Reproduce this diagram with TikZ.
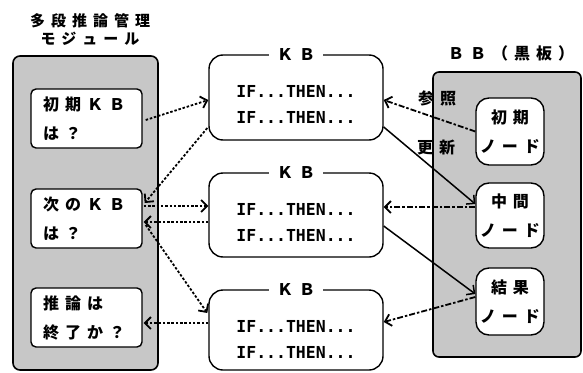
\documentclass[tikz,border=0pt]{standalone}
\usepackage{fontspec}
\setmainfont{Liberation Sans}
\newfontfamily\jp{Noto Sans CJK JP}
\newfontfamily\ifont{DejaVu Sans Mono}
\usetikzlibrary{arrows.meta}
\makeatletter
\newcommand\jsp[1]{\@tfor\jsp@c:=#1\do{\jsp@c\kern6pt}\unkern}
\makeatother
\tikzset{
  jtext/.style={font=\jp\bfseries\fontsize{16}{29}\selectfont},
  panel/.style={draw, line width=1.6pt, fill=black!22, rounded corners=7pt, inner sep=0pt},
  ibox/.style={draw, line width=1.4pt, fill=white, rounded corners=5pt, minimum width=111pt,
    minimum height=59pt, text width=87pt, inner xsep=12pt, inner ysep=0pt, align=left, jtext},
  kbbox/.style={draw, line width=1.4pt, fill=white, rounded corners=14pt, minimum width=174pt, inner sep=0pt},
  bnode/.style={draw, line width=1.4pt, fill=white, rounded corners=13pt, minimum width=68pt,
    inner sep=0pt, align=center, jtext},
  iftext/.style={font=\ifont\bfseries\fontsize{16.5}{18}\selectfont, inner sep=0pt},
  kbtitle/.style={jtext, fill=white, inner xsep=8pt, inner ysep=1pt},
  tip/.style={-{Straight Barb[length=6pt,width=12pt]}},
  dotarr/.style={tip, line width=1.8pt, dash pattern=on 2.5pt off 1.8pt},
  dasharr/.style={tip, line width=1.8pt, dash pattern=on 6pt off 2pt on 2.5pt off 2pt},
  solarr/.style={tip, line width=1.5pt},
}
\begin{document}
\begin{tikzpicture}[x=1pt,y=-1pt]
\useasboundingbox (0,0) rectangle (583,372);
% titles
\node[jtext, align=center, font=\jp\bfseries\fontsize{15}{18}\selectfont] (modtitle) at (90,29) {\jsp{多段推論管理}\\\jsp{モジュール}};
\node[jtext] (bbtitle) at (511,53) {\jsp{ＢＢ（黒板）}};
% panels
\node[panel, minimum width=145pt, minimum height=314pt] (mod) at (85.5,213) {};
\node[panel, minimum width=148pt, minimum height=285pt, rounded corners=6pt] (bb) at (507,214.5) {};
% module boxes
\node[ibox] (ini) at (86.5,118.5) {\jsp{初期ＫＢ}\\\jsp{は？}};
\node[ibox] (nxt) at (86.5,218.5) {\jsp{次のＫＢ}\\\jsp{は？}};
\node[ibox] (fin) at (86.5,317.5) {\jsp{推論は}\\\jsp{終了か？}};
% KB boxes
\node[kbbox, minimum height=85pt] (kbA) at (296,97.5) {};
\node[kbbox, minimum height=84pt] (kbB) at (296,215) {};
\node[kbbox, minimum height=80pt] (kbC) at (296,330) {};
\foreach \k in {kbA,kbB,kbC}{
  \node[kbtitle] (\k-t) at (\k.north) {\jsp{ＫＢ}};
  \node[iftext] (\k-r1) at ([yshift=-37pt]\k.north) {IF...THEN...};
  \node[iftext] (\k-r2) at ([yshift=-63pt]\k.north) {IF...THEN...};
}
% BB nodes
\node[bnode, minimum height=67pt] (bini) at (510,131.5) {\jsp{初期}\\\jsp{ノード}};
\node[bnode, minimum height=65pt] (bmid) at (510,215.5) {\jsp{中間}\\\jsp{ノード}};
\node[bnode, minimum height=67pt] (bres) at (510,301.5) {\jsp{結果}\\\jsp{ノード}};
% labels
\node[jtext] (lref) at (437,98) {\jsp{参照}};
\node[jtext] (lupd) at (436,148) {\jsp{更新}};
% left connectors
\draw[dotarr] ([xshift=3pt,yshift=-1.5pt]ini.east) -- ([yshift=-2.5pt]kbA.west);
\draw[dotarr] ([xshift=-1pt,yshift=-30.5pt]kbA.west) -- ([xshift=2pt,yshift=15.5pt]nxt.east);
\draw[dotarr] ([xshift=1pt,yshift=12.5pt]nxt.east) -- ([yshift=9pt]kbB.west);
\draw[dotarr] ([yshift=-7pt]kbB.west) -- ([xshift=1pt,yshift=-3.5pt]nxt.east);
\draw[dotarr] ([xshift=3pt,yshift=-6.5pt]nxt.east) -- ([xshift=-1pt,yshift=17pt]kbC.west);
\draw[dotarr] ([yshift=7pt]kbC.west) -- ([xshift=1pt,yshift=-5.5pt]fin.east);
% right connectors
\draw[dasharr] ([yshift=0pt]bini.west) -- ([yshift=-2.5pt]kbA.east);
\draw[solarr] ([yshift=-29.5pt]kbA.east) -- ([yshift=11.5pt]bmid.west);
\draw[dasharr] ([yshift=8.5pt]bmid.west) -- ([yshift=8pt]kbB.east);
\draw[solarr] ([yshift=-11pt]kbB.east) -- ([yshift=7.5pt]bres.west);
\draw[dasharr] ([yshift=4.5pt]bres.west) -- ([yshift=8pt]kbC.east);
\end{tikzpicture}
\end{document}
